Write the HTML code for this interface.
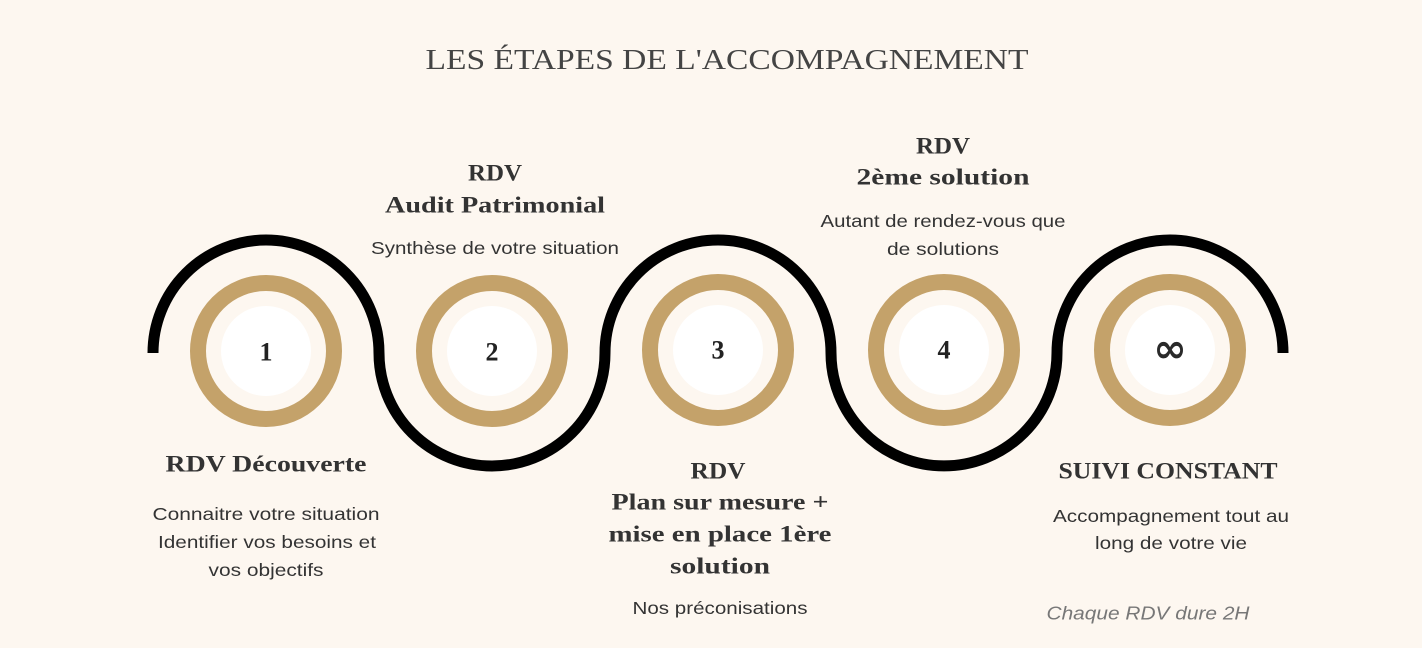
<!DOCTYPE html>
<html><head><meta charset="utf-8"><style>
html,body{margin:0;padding:0;background:#fdf7f0;}
svg{display:block}
.h{font-family:"Liberation Serif",serif;font-weight:bold;font-size:23px;fill:#333}
.b{font-family:"Liberation Sans",sans-serif;font-size:17.5px;fill:#333}
.n{font-family:"Liberation Serif",serif;font-weight:bold;font-size:26px;fill:#222}
</style></head><body>
<svg width="1422" height="648" viewBox="0 0 1422 648" xmlns="http://www.w3.org/2000/svg">
<rect width="1422" height="648" fill="#fdf7f0"/>
<text x="727" y="60" text-anchor="middle" dominant-baseline="central" font-family="Liberation Serif,serif" font-size="29" fill="#444" textLength="603" lengthAdjust="spacingAndGlyphs">LES ÉTAPES DE L'ACCOMPAGNEMENT</text>
<path d="M153,353 A113,113 0 0 1 379,353 A113,113 0 0 0 605,353 A113,113 0 0 1 831,353 A113,113 0 0 0 1057,353 A113,113 0 0 1 1283,353" fill="none" stroke="#000" stroke-width="11"/>
<g fill="#fdf7f0" stroke="#c4a26a" stroke-width="16">
<circle cx="266" cy="351" r="68"/><circle cx="492" cy="351" r="68"/><circle cx="718" cy="350" r="68"/><circle cx="944" cy="350" r="68"/><circle cx="1170" cy="350" r="68"/>
</g>
<g fill="#fff">
<circle cx="266" cy="351" r="45"/><circle cx="492" cy="351" r="45"/><circle cx="718" cy="350" r="45"/><circle cx="944" cy="350" r="45"/><circle cx="1170" cy="350" r="45"/>
</g>
<g text-anchor="middle" dominant-baseline="central">
<text class="n" x="266" y="352">1</text>
<text class="n" x="492" y="352">2</text>
<text class="n" x="718" y="350">3</text>
<text class="n" x="944" y="350">4</text>
<text x="1170" y="349" font-family="DejaVu Sans,sans-serif" font-weight="bold" font-size="40" fill="#2a2a2a">∞</text>

<text class="h" x="495" y="173" textLength="54" lengthAdjust="spacingAndGlyphs">RDV</text>
<text class="h" x="495" y="205" textLength="220" lengthAdjust="spacingAndGlyphs">Audit Patrimonial</text>
<text class="b" x="495" y="248" textLength="248" lengthAdjust="spacingAndGlyphs">Synthèse de votre situation</text>

<text class="h" x="943" y="146" textLength="54" lengthAdjust="spacingAndGlyphs">RDV</text>
<text class="h" x="943" y="177" textLength="173" lengthAdjust="spacingAndGlyphs">2ème solution</text>
<text class="b" x="943" y="221" textLength="245" lengthAdjust="spacingAndGlyphs">Autant de rendez-vous que</text>
<text class="b" x="943" y="249" textLength="112" lengthAdjust="spacingAndGlyphs">de solutions</text>

<text class="h" x="266" y="464" textLength="201" lengthAdjust="spacingAndGlyphs">RDV Découverte</text>
<text class="b" x="266" y="514" textLength="227" lengthAdjust="spacingAndGlyphs">Connaitre votre situation</text>
<text class="b" x="267" y="542" textLength="218" lengthAdjust="spacingAndGlyphs">Identifier vos besoins et</text>
<text class="b" x="266" y="570" textLength="115" lengthAdjust="spacingAndGlyphs">vos objectifs</text>

<text class="h" x="718" y="471" textLength="55" lengthAdjust="spacingAndGlyphs">RDV</text>
<text class="h" x="720" y="502" textLength="217" lengthAdjust="spacingAndGlyphs">Plan sur mesure +</text>
<text class="h" x="720" y="534" textLength="223" lengthAdjust="spacingAndGlyphs">mise en place 1ère</text>
<text class="h" x="720" y="566" textLength="100" lengthAdjust="spacingAndGlyphs">solution</text>
<text class="b" x="720" y="608" textLength="175" lengthAdjust="spacingAndGlyphs">Nos préconisations</text>

<text class="h" x="1168" y="471" textLength="219" lengthAdjust="spacingAndGlyphs">SUIVI CONSTANT</text>
<text class="b" x="1171" y="516" textLength="236" lengthAdjust="spacingAndGlyphs">Accompagnement tout au</text>
<text class="b" x="1171" y="543" textLength="152" lengthAdjust="spacingAndGlyphs">long de votre vie</text>
<text x="1148" y="613" font-family="Liberation Sans,sans-serif" font-style="italic" font-size="18.5" fill="#777" textLength="203" lengthAdjust="spacingAndGlyphs">Chaque RDV dure 2H</text>
</g>
</svg>
</body></html>
